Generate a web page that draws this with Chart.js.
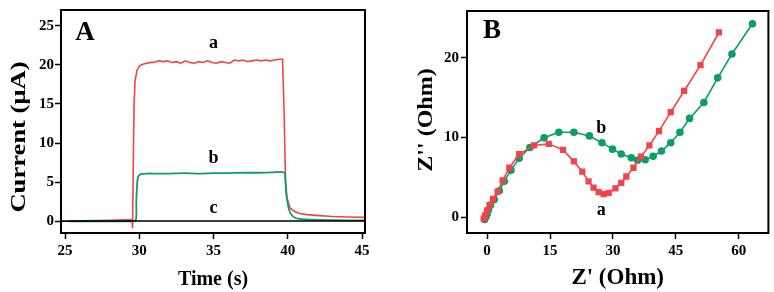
<!DOCTYPE html>
<html><head><meta charset="utf-8">
<script src="https://cdn.jsdelivr.net/npm/chart.js@4.4.1/dist/chart.umd.min.js"></script>
<style>
html,body{margin:0;padding:0;background:#fff;}
#wrap{position:relative;width:774px;height:292px;overflow:hidden;}
canvas{position:absolute;top:0;}
#ca{left:0;} #cb{left:390px;}
</style></head><body>
<div id="wrap"><canvas id="ca" width="390" height="292"></canvas><canvas id="cb" width="384" height="292"></canvas></div>
<script>
// ---------- Panel A data ----------
const aTime = [25.3,26,27,28,29,29.5,29.55,29.6,29.65,29.72,29.85,30.0,30.15,30.3,30.5,30.8,31.0,31.3,31.6,31.9,32.2,32.5,32.8,33.1,33.4,33.7,34.0,34.3,34.6,34.9,35.2,35.5,35.8,36.1,36.4,36.7,37.0,37.3,37.6,37.9,38.2,38.5,38.8,39.1,39.4,39.65,39.75,39.85,39.95,40.15,40.4,40.8,41.3,41.9,43,44,45.2];
const aCurrent = [0,0.05,0.08,0.12,0.18,0.2,-0.9,8,15,18,19.3,19.8,20.0,20.1,20.2,20.3,20.3,20.5,20.4,20.5,20.3,20.4,20.2,20.5,20.3,20.2,20.4,20.3,20.5,20.3,20.2,20.4,20.3,20.2,20.6,20.5,20.6,20.4,20.5,20.6,20.5,20.6,20.5,20.6,20.7,20.7,14,5,3.0,1.7,1.3,1.0,0.85,0.75,0.6,0.55,0.5];
const bTime = [25.3,27,29,29.75,29.8,29.85,29.9,30.0,30.2,30.5,31,32,33,34,35,36,37,38,39,39.75,39.85,39.9,40.0,40.1,40.25,40.5,40.8,41.5,43,45.2];
const bCurrent = [0,0,0,0.1,2.5,4.6,5.5,5.9,6.05,6.1,6.1,6.1,6.15,6.1,6.15,6.15,6.2,6.2,6.25,6.25,5.0,3.5,2.2,1.4,0.8,0.45,0.3,0.2,0.15,0.1];
const cTime = [24.73,30,35,40,45.2];
const cCurrent = [0.02,0.03,0.03,0.03,0.03];
const aXTicks = [25,30,35,40,45];
const aYTicks = [0,5,10,15,20,25];

// ---------- Panel B data ----------
const aZre = [-0.8,-0.5,0,0.6,1.4,2.5,3.7,5.3,7.65,11.2,14.7,18.1,20.7,22.7,24.2,25.4,26.6,27.8,29.0,30.6,32.0,33.2,34.9,36.7,38.7,41.0,43.8,47.0,50.9,55.3];
const aZim = [-0.2,0.2,0.8,1.5,2.3,3.2,4.6,6.2,7.9,9.0,9.2,8.45,7.0,5.7,4.5,3.7,3.15,2.9,3.05,3.6,4.3,5.1,6.2,7.6,9.0,10.8,13.2,15.85,19.1,23.2];
const bZre = [-0.6,-0.3,0,0.3,0.8,1.7,2.9,4.1,5.7,7.65,10.2,13.6,17.1,20.7,24.4,27.4,29.9,32.0,34.4,35.9,37.7,39.6,41.6,43.8,46.0,48.3,51.7,55.0,58.4,63.3];
const bZim = [-0.3,0,0.4,0.9,1.5,2.2,3.3,4.5,5.9,7.4,8.75,9.96,10.66,10.66,10.2,9.35,8.54,7.93,7.45,7.15,7.2,7.65,8.3,9.35,10.66,12.4,14.4,17.5,20.5,24.3];
const bXTicks = [0,15,30,45,60];
const bYTicks = [0,10,20];

// labels
const aLabels = [{t:'a',x:35,y:22.8},{t:'b',x:35,y:8.0},{t:'c',x:35,y:1.6}];
const bLabels = [{t:'b',x:27.2,y:11.2},{t:'a',x:27.2,y:0.8}];

const RED = '#f04549';
const GREEN = '#0d9e68';
const FONT = "'Liberation Serif','Times New Roman',serif";

function pts(xs, ys){ return xs.map((x,i)=>({x:x,y:ys[i]})); }

// yTitle: [text, centerX, centerY, stretch]
function framePlugin(panelLetter, letterPos, labels, yTitle){
  return {
    id:'frame'+panelLetter,
    afterDraw(chart){
      const ctx = chart.ctx, a = chart.chartArea;
      ctx.save();
      ctx.strokeStyle = '#000'; ctx.lineWidth = 2;
      ctx.strokeRect(a.left, a.top, a.right-a.left, a.bottom-a.top);
      ctx.fillStyle = '#000';
      ctx.textAlign='center'; ctx.textBaseline='middle';
      ctx.font = "bold 27px " + FONT;
      ctx.fillText(panelLetter, a.left+letterPos[0], a.top+letterPos[1]);
      ctx.font = "bold 18px " + FONT;
      const xs = chart.scales.x, ys = chart.scales.y;
      labels.forEach(l=>{ ctx.fillText(l.t, xs.getPixelForValue(l.x), ys.getPixelForValue(l.y)); });
      // y axis title
      ctx.translate(yTitle[1], yTitle[2]);
      ctx.rotate(-Math.PI/2);
      ctx.scale(yTitle[3], 1);
      ctx.font = "bold 20px " + FONT;
      ctx.fillText(yTitle[0], 0, 0);
      ctx.restore();
    }
  };
}

function axisOpts(min,max,ticks,title,fitSize,isY,titleSize,tickPad){
  return {
    type:'linear', min:min, max:max,
    afterBuildTicks(s){ s.ticks = ticks.map(v=>({value:v})); },
    afterFit(s){ if(isY) s.width = fitSize; else s.height = fitSize; },
    grid:{drawOnChartArea:false, drawTicks:true, tickLength:6, tickColor:'#000', tickWidth:1.5},
    border:{display:false},
    ticks:{color:'#000', font:{family:FONT, size:15, weight:'bold'}, padding:tickPad},
    title:{display:!isY, text:title, color:'#000', font:{family:FONT, size:titleSize, weight:'bold'}, padding:{top:4,bottom:0}}
  };
}

new Chart(document.getElementById('ca'), {
  type:'line',
  data:{datasets:[
    {data:pts(cTime,cCurrent), borderColor:'#000', borderWidth:1.6, pointRadius:0, tension:0},
    {data:pts(bTime,bCurrent), borderColor:GREEN, borderWidth:1.8, pointRadius:0, tension:0.2},
    {data:pts(aTime,aCurrent), borderColor:RED, borderWidth:1.6, pointRadius:0, tension:0}
  ]},
  options:{
    responsive:false, animation:false, devicePixelRatio:1,
    layout:{padding:{left:0,right:25,top:4,bottom:0}},
    plugins:{legend:{display:false}, tooltip:{enabled:false}},
    scales:{
      x:axisOpts(24.73,45.2,aXTicks,'Time (s)',59,false,20,3),
      y:axisOpts(-1.5,27.0,aYTicks,'Current (μA)',61,true,20,1)
    }
  },
  plugins:[framePlugin('A',[24,23],aLabels,['Current (μA)',20,137,1.33])]
});

new Chart(document.getElementById('cb'), {
  type:'scatter',
  data:{datasets:[
    {data:pts(aZre,aZim), showLine:true, borderColor:RED, backgroundColor:RED, borderWidth:1.6, pointStyle:'rect', pointRadius:3.3, tension:0},
    {data:pts(bZre,bZim), showLine:true, borderColor:GREEN, backgroundColor:GREEN, borderWidth:1.6, pointStyle:'circle', pointRadius:3, tension:0}
  ]},
  options:{
    responsive:false, animation:false, devicePixelRatio:1,
    layout:{padding:{left:0,right:3,top:4,bottom:0}},
    plugins:{legend:{display:false}, tooltip:{enabled:false}},
    scales:{
      x:axisOpts(-4.8,67.1,bXTicks,"Z' (Ohm)",59,false,23,3),
      y:axisOpts(-2.0,25.9,bYTicks,"Z'' (Ohm)",77,true,20,2)
    }
  },
  plugins:[framePlugin('B',[25,20],bLabels,["Z'' (Ohm)",37,120,1.2])]
});
</script>
</body></html>
